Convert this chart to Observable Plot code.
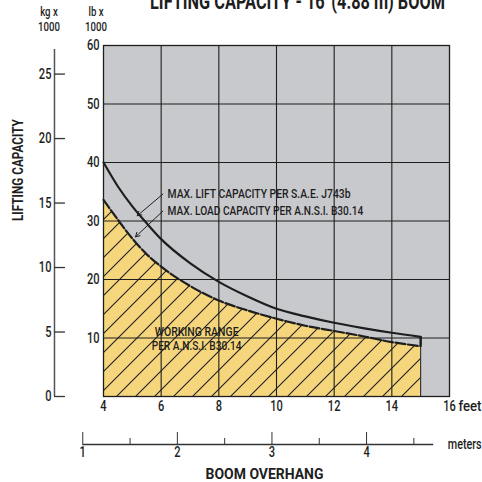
<!DOCTYPE html>
<html><head><meta charset="utf-8">
<script src="https://cdn.jsdelivr.net/npm/d3@7"></script>
<script src="https://cdn.jsdelivr.net/npm/@observablehq/plot@0.6"></script>
<style>
html,body{margin:0;padding:0;background:#fff;}
#chart{width:482px;height:482px;overflow:hidden;}
</style></head><body><div id="chart"></div>
<script>
// ---- data ----
const feet          = [4, 4.5, 5, 5.5, 6, 7, 8, 9, 10, 11, 12, 13, 14, 15];
const liftCapacity  = [40, 35.9, 32.5, 29.6, 26.9, 22.8, 19.6, 17.1, 15.0, 13.7, 12.6, 11.7, 10.9, 10.2]; // lb x 1000, S.A.E. J743b
const loadCapacity  = [33.6, 30.2, 27.0, 24.3, 22.2, 18.9, 16.4, 14.7, 13.3, 12.1, 11.2, 10.3, 9.3, 8.6]; // lb x 1000, A.N.S.I. B30.14
const feetTicks     = [4, 6, 8, 10, 12, 14, 16];
const lbTicks       = [10, 20, 30, 40, 50, 60];
const kgTicks       = [0, 5, 10, 15, 20, 25];
const meterMajor    = [1, 2, 3, 4];
const meterMinor    = [1.5, 2.5, 3.5, 4.5];
const meterEnd      = 4.71;
const LB_PER_KG = 2.20462, FT_PER_M = 3.28084;

const lift = feet.map((x, i) => ({x, y: liftCapacity[i]}));
const load = feet.map((x, i) => ({x, y: loadCapacity[i]}));
const lastX = feet[feet.length - 1];

// ---- layout / style ----
const FONT = "Roboto,'Liberation Sans',sans-serif";
const INK = "#1e1e1e";
const GREY = "#c8c9cc";
const YELLOW = "#f6d67c";
const KG_X = 2.30, KG_TICK = 0.38;   // kg axis line position (feet units)
const TITLE = "LIFTING CAPACITY - 16' (4.88 m) BOOM";

const annotations = [
  {text: "MAX. LIFT CAPACITY PER S.A.E. J743b", x: 6.22, y: 34.6},
  {text: "MAX. LOAD CAPACITY PER A.N.S.I. B30.14", x: 6.22, y: 31.7}
];
const leaders = [
  {x1: 6.06, y1: 34.6, x2: 5.17, y2: 30.9},
  {x1: 6.06, y1: 31.7, x2: 5.11, y2: 27.3}
];
const working = [
  {text: "WORKING RANGE", x: 7.23, y: 11.05},
  {text: "PER A.N.S.I. B30.14", x: 7.23, y: 8.6}
];
// target widths (px) of texts as they appear in the reference
const fitWidths = {
  "MAX. LIFT CAPACITY PER S.A.E. J743b": 183,
  "MAX. LOAD CAPACITY PER A.N.S.I. B30.14": 196,
  "WORKING RANGE": 84,
  "PER A.N.S.I. B30.14": 90,
  "BOOM OVERHANG": 118,
  "LIFTING CAPACITY": 102,
  "meters": 34,
  "feet": 23,
  [TITLE]: 295
};
const CONDENSE = 0.74;

const chart = Plot.plot({
  width: 482, height: 482,
  marginLeft: 103, marginRight: 33, marginTop: 45, marginBottom: 86,
  style: {fontFamily: FONT, fontWeight: 500, background: "#fff", color: INK, overflow: "visible"},
  x: {domain: [4, 16], axis: null},
  y: {domain: [0, 60], axis: null},
  marks: [
    Plot.frame({fill: GREY, stroke: null}),
    Plot.areaY(load, {x: "x", y: "y", fill: YELLOW, curve: "monotone-x"}),
    Plot.areaY(load, {x: "x", y: "y", fill: "url(#hatch)", curve: "monotone-x"}),
    Plot.ruleX(feetTicks.slice(1, -1), {stroke: INK, strokeWidth: 1.1}),
    Plot.ruleY(lbTicks.slice(0, -1), {stroke: INK, strokeWidth: 1.1}),
    Plot.ruleX([lastX], {y1: 0, y2: loadCapacity[loadCapacity.length - 1], stroke: INK, strokeWidth: 1}),
    Plot.ruleX([lastX], {y1: loadCapacity[loadCapacity.length - 1], y2: liftCapacity[liftCapacity.length - 1], stroke: INK, strokeWidth: 2.5}),
    Plot.line(lift, {x: "x", y: "y", stroke: INK, strokeWidth: 2.2, curve: "monotone-x"}),
    Plot.line(load, {x: "x", y: "y", stroke: INK, strokeWidth: 2.2, strokeDasharray: "10,2.5", curve: "monotone-x"}),
    Plot.frame({stroke: INK, strokeWidth: 1.3}),
    // annotations
    Plot.arrow(leaders, {x1: "x1", y1: "y1", x2: "x2", y2: "y2", stroke: INK, strokeWidth: 1, headLength: 7}),
    Plot.text(annotations, {x: "x", y: "y", text: "text", textAnchor: "start", fontSize: 13, fill: INK}),
    Plot.text(working, {x: "x", y: "y", text: "text", textAnchor: "middle", fontSize: 13, fill: INK}),
    // lb axis
    Plot.axisY(lbTicks, {anchor: "left", tickSize: 0, tickPadding: 4, fontSize: 15, label: null}),
    // feet axis
    Plot.axisX(feetTicks, {anchor: "bottom", tickSize: 0, tickPadding: 4, fontSize: 15, label: null}),
    Plot.text(["feet"], {x: 16, y: 0, dx: 9, dy: 10, textAnchor: "start", lineAnchor: "middle", fontSize: 15}),
    // kg axis
    Plot.ruleX([KG_X], {y1: 0, y2: 59.3, stroke: "#555", strokeWidth: 1.5}),
    Plot.ruleY(kgTicks, {y: d => d * LB_PER_KG, x1: KG_X, x2: KG_X + KG_TICK, stroke: "#333", strokeWidth: 1.3}),
    Plot.text(kgTicks, {x: KG_X, y: d => d * LB_PER_KG, text: d => String(d), dx: -3, textAnchor: "end", fontSize: 15}),
    // meters axis
    Plot.ruleY([0], {x1: meterMajor[0] * FT_PER_M, x2: meterEnd * FT_PER_M, dy: 48, stroke: "#333", strokeWidth: 1.3}),
    Plot.axisX(meterMajor.map(m => m * FT_PER_M), {anchor: "bottom", dy: 36, tickSize: 12, tickPadding: 2, tickFormat: d => String(Math.round(d / FT_PER_M)), fontSize: 15, label: null, stroke: "#333"}),
    Plot.axisX(meterMinor.map(m => m * FT_PER_M), {anchor: "bottom", dy: 42, tickSize: 6, tickFormat: () => "", label: null, stroke: "#333"}),
    Plot.text(["meters"], {x: meterEnd * FT_PER_M, y: 0, dx: 14, dy: 47.5, textAnchor: "start", lineAnchor: "middle", fontSize: 15}),
    Plot.text(["BOOM OVERHANG"], {frameAnchor: "bottom", dx: -12, dy: 78, lineAnchor: "middle", fontSize: 14, fontWeight: "bold"}),
    // y label
    Plot.text(["LIFTING CAPACITY"], {frameAnchor: "left", dx: -85, rotate: -90, lineAnchor: "middle", fontSize: 14, fontWeight: "bold"}),
    // title (cut off at the top edge, as in the reference)
    Plot.text([TITLE], {frameAnchor: "top", dx: 21, dy: -37, lineAnchor: "bottom", fontSize: 22, fontWeight: "bold"})
  ]
});
document.getElementById("chart").append(chart);

const svg = d3.select(chart);
// unit headers above the two vertical axes
const hdr = svg.append("g").attr("font-family", FONT).attr("font-weight", 500).attr("font-size", 13).attr("text-anchor", "middle").attr("fill", INK);
[["kg x", 49, 16.5], ["1000", 49, 31.5], ["lb x", 96, 16.5], ["1000", 96, 31.5]].forEach(([t, x, y]) => hdr.append("text").attr("x", x).attr("y", y).text(t));

// hatch pattern
const defs = svg.insert("defs", ":first-child");
const pat = defs.append("pattern").attr("id", "hatch").attr("patternUnits", "userSpaceOnUse").attr("width", 19).attr("height", 19);
pat.append("path").attr("d", "M-2,2 L2,-2 M0,19 L19,0 M17,21 L21,17").attr("stroke", INK).attr("stroke-width", 1.1).attr("fill", "none");

// condense the lettering (the reference uses a condensed typeface)
svg.selectAll("text").each(function() {
  const content = this.textContent;
  if (!content) return;
  let s = CONDENSE;
  if (fitWidths[content]) {
    const len = this.getComputedTextLength();
    if (len > 0) s = fitWidths[content] / len;
  }
  const t = this.getAttribute("transform") || "";
  const xa = this.getAttribute("x");
  let tx = 0;
  if (xa !== null && /^-?[\d.]+$/.test(xa.trim())) { tx = +xa; this.setAttribute("x", 0); }
  this.setAttribute("transform", `${t} translate(${tx},0) scale(${s},1)`);
});
</script>
</body></html>
